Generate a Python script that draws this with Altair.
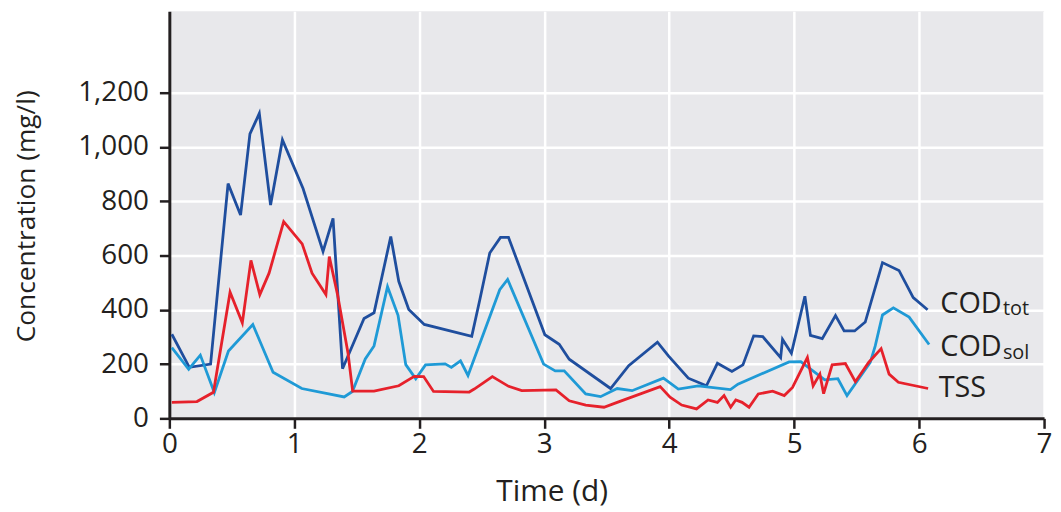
import altair as alt
import pandas as pd

# ---- data ----
tot_t = [0.02, 0.16, 0.33, 0.47, 0.57, 0.645, 0.72, 0.81, 0.905, 1.07, 1.23, 1.31, 1.386,
         1.558, 1.638, 1.772, 1.836, 1.916, 2.04, 2.42, 2.485, 2.564, 2.65, 2.714, 3.005,
         3.12, 3.2, 3.531, 3.676, 3.906, 3.994, 4.153, 4.298, 4.386, 4.502, 4.59, 4.676,
         4.749, 4.892, 4.907, 4.978, 5.086, 5.13, 5.225, 5.331, 5.40, 5.484, 5.569, 5.707,
         5.839, 5.953, 6.068]
tot_v = [310, 188, 200, 865, 749, 1048, 1124, 786, 1026, 847, 615, 737, 183,
         368, 389, 670, 505, 401, 346, 302, 438, 609, 667, 667, 308,
         273, 218, 110, 194, 281, 230, 148, 120, 203, 173, 197, 304,
         301, 224, 291, 240, 450, 306, 294, 379, 322, 322, 355, 574,
         545, 445, 400]

sol_t = [0.02, 0.155, 0.248, 0.36, 0.473, 0.668, 0.83, 1.06, 1.399, 1.465, 1.568, 1.638,
         1.746, 1.83, 1.892, 1.972, 2.05, 2.207, 2.257, 2.33, 2.39, 2.644, 2.707, 2.995,
         3.088, 3.16, 3.332, 3.451, 3.584, 3.703, 3.954, 4.073, 4.232, 4.49, 4.55, 4.96,
         5.053, 5.245, 5.35, 5.423, 5.609, 5.649, 5.707, 5.794, 5.92, 6.08]
sol_v = [261, 181, 233, 95, 248, 346, 170, 110, 79, 99, 219, 267,
         485, 380, 198, 146, 197, 201, 188, 212, 158, 474, 512, 200,
         175, 175, 90, 80, 110, 102, 148, 108, 120, 106, 126, 208,
         209, 142, 146, 84, 206, 267, 381, 407, 373, 272]

tss_t = [0.02, 0.221, 0.353, 0.486, 0.584, 0.653, 0.724, 0.798, 0.915, 1.063, 1.142, 1.253,
         1.28, 1.346, 1.43, 1.467, 1.638, 1.836, 1.96, 2.035, 2.114, 2.40, 2.44, 2.585,
         2.715, 2.82, 3.094, 3.2, 3.332, 3.478, 3.584, 3.928, 4.007, 4.1, 4.219, 4.311,
         4.386, 4.439, 4.492, 4.533, 4.583, 4.639, 4.713, 4.828, 4.921, 4.987, 5.106, 5.152,
         5.206, 5.236, 5.304, 5.41, 5.49, 5.596, 5.696, 5.76, 5.834, 6.072]
tss_v = [59, 62, 96, 465, 352, 582, 456, 535, 725, 643, 535, 456,
         596, 456, 240, 100, 100, 120, 155, 154, 99, 97, 108, 154,
         118, 102, 105, 65, 49, 41, 59, 117, 78, 49, 35, 68,
         59, 84, 41, 68, 59, 41, 90, 100, 84, 114, 224, 120,
         163, 91, 197, 202, 135, 206, 257, 163, 133, 110]

series_names = ["COD_tot", "COD_sol", "TSS"]
series_colors = ["#1f4e9e", "#1f9ad6", "#e6212b"]

label_series = ["COD_tot", "COD_sol", "TSS"]
label_main = ["COD", "COD", "TSS"]
label_sub = ["tot", "sol", ""]
label_x = [6.17, 6.17, 6.157]
label_y = [390, 230, 79]

x_ticks = [0, 1, 2, 3, 4, 5, 6, 7]
y_ticks = [0, 200, 400, 600, 800, 1000, 1200]

# ---- build tables ----
rows = []
for name, ts, vs in zip(series_names, [tot_t, sol_t, tss_t], [tot_v, sol_v, tss_v]):
    for i, (t, v) in enumerate(zip(ts, vs)):
        rows.append({"series": name, "t": t, "v": v, "i": i})
df = pd.DataFrame(rows)

labels = pd.DataFrame({"series": label_series, "main": label_main, "sub": label_sub,
                       "t": label_x, "v": label_y})

FONT = "Open Sans"
INK = "#231f20"

x_scale = alt.Scale(domain=[0, 7], nice=False)
y_scale = alt.Scale(domain=[0, 1500], nice=False)

x_axis = alt.Axis(values=x_ticks, format="d", grid=True, gridColor="white", gridWidth=2.5,
                  domainColor=INK, domainWidth=3, tickColor=INK, tickWidth=2.5, tickSize=10,
                  labelFont=FONT, labelFontSize=28, labelColor=INK, labelPadding=2,
                  labelFlush=False, labelOverlap=False,
                  titleFont=FONT, titleFontSize=30, titleFontWeight="normal", titleColor=INK,
                  titleX=385, titleY=83, titleBaseline="alphabetic", titleAlign="center")
y_axis = alt.Axis(values=y_ticks, format=",d", grid=True, gridColor="white", gridWidth=2.5,
                  domainColor=INK, domainWidth=3, tickColor=INK, tickWidth=2.5, tickSize=10,
                  labelFont=FONT, labelFontSize=28, labelColor=INK, labelPadding=11,
                  labelFlush=False, labelOverlap=False,
                  titleFont=FONT, titleFontSize=26.5, titleFontWeight="normal", titleColor=INK,
                  titleX=-135.5, titleY=206, titleAngle=270, titleBaseline="alphabetic",
                  titleAlign="center")

color = alt.Color("series:N", scale=alt.Scale(domain=series_names, range=series_colors),
                  legend=None)

lines = alt.Chart(df).mark_line(strokeWidth=2.8).encode(
    x=alt.X("t:Q", scale=x_scale, axis=x_axis, title="Time (d)"),
    y=alt.Y("v:Q", scale=y_scale, axis=y_axis, title="Concentration (mg/l)"),
    color=color,
    order="i:Q",
)

main_text = alt.Chart(labels).mark_text(align="left", baseline="alphabetic", font=FONT,
                                        fontSize=29, color=INK).encode(
    x=alt.X("t:Q", scale=x_scale), y=alt.Y("v:Q", scale=y_scale), text="main:N")

sub_text = alt.Chart(labels).mark_text(align="left", baseline="alphabetic", font=FONT,
                                       fontSize=20, color=INK, dx=63, dy=3).encode(
    x=alt.X("t:Q", scale=x_scale), y=alt.Y("v:Q", scale=y_scale), text="sub:N")

chart = alt.layer(lines, main_text, sub_text).properties(
    width=881, height=410,
    autosize=alt.AutoSizeParams(type="none"),
    padding={"left": 162.5, "top": 1.5, "right": 9, "bottom": 92},
).configure_view(fill="#e8e8eb", stroke=None)

chart.save("out.html", embed_options={"renderer": "svg", "actions": False})
